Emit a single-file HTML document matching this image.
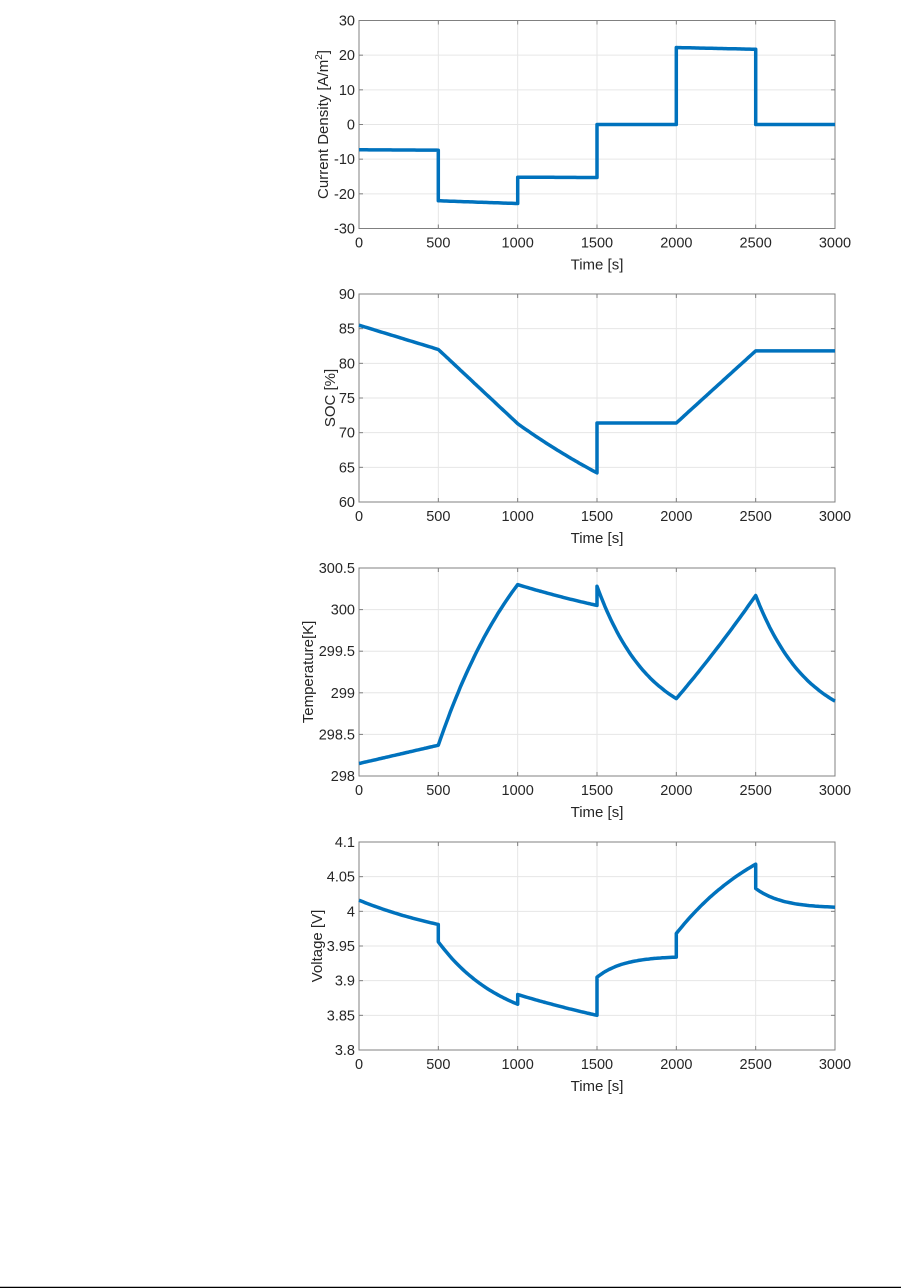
<!DOCTYPE html>
<html><head><meta charset="utf-8"><style>
html,body{margin:0;padding:0;background:#fff;width:901px;height:1288px;overflow:hidden}
svg{display:block}
text{font-family:"Liberation Sans",sans-serif;fill:#262626}
</style></head><body>
<svg id="s" width="901" height="1288" xmlns="http://www.w3.org/2000/svg">
<line x1="0" y1="1287.5" x2="901" y2="1287.5" stroke="#000" stroke-width="1.5"/>
</svg>
<script>
var S=document.getElementById('s');var NS='http://www.w3.org/2000/svg';
function el(t,a,txt){var e=document.createElementNS(NS,t);for(var k in a)e.setAttribute(k,a[k]);if(txt!==undefined)e.textContent=txt;S.appendChild(e);return e;}
var X0=359,X1=835,H=208;
function seg(t0,t1,v0,v1,k){var p=[];for(var i=0;i<=40;i++){var u=i/40,f=k?(1-Math.exp(-k*u))/(1-Math.exp(-k)):u;p.push([t0+(t1-t0)*u,v0+(v1-v0)*f]);}return p;}
function plot(top,ymin,ymax,ticks,labels,ylabel,lx,segs,sup){
  var yb=top+H;
  function Y(v){return yb-(v-ymin)/(ymax-ymin)*H;}
  function Xp(t){return X0+t/3000*(X1-X0);}
  for(var t=500;t<3000;t+=500)el('line',{x1:Xp(t),y1:top,x2:Xp(t),y2:yb,stroke:'#e6e6e6','stroke-width':1});
  ticks.forEach(function(v){var y=Y(v);if(y>top+0.5&&y<yb-0.5)el('line',{x1:X0,y1:y,x2:X1,y2:y,stroke:'#e6e6e6','stroke-width':1});});
  for(var t=0;t<=3000;t+=500){var x=Xp(t);el('line',{x1:x,y1:yb,x2:x,y2:yb-4,stroke:'#808080'});el('line',{x1:x,y1:top,x2:x,y2:top+4,stroke:'#808080'});el('text',{x:x,y:yb+19,'text-anchor':'middle','font-size':14.5},''+t);}
  ticks.forEach(function(v,i){var y=Y(v);el('line',{x1:X0,y1:y,x2:X0+4,y2:y,stroke:'#808080'});el('line',{x1:X1,y1:y,x2:X1-4,y2:y,stroke:'#808080'});el('text',{x:X0-4,y:y+5,'text-anchor':'end','font-size':14.5},labels[i]);});
  el('rect',{x:X0,y:top,width:X1-X0,height:H,fill:'none',stroke:'#808080','stroke-width':1});
  el('text',{x:(X0+X1)/2,y:yb+41,'text-anchor':'middle','font-size':15},'Time [s]');
  var tt=el('text',{x:0,y:0,'text-anchor':'middle','font-size':15,transform:'translate('+lx+','+(top+H/2)+') rotate(-90)'},ylabel);
  if(sup){var ts=document.createElementNS(NS,'tspan');ts.setAttribute('font-size','10');ts.setAttribute('dy','-6');ts.textContent='2';tt.appendChild(ts);var t2=document.createElementNS(NS,'tspan');t2.setAttribute('dy','6');t2.textContent=']';tt.appendChild(t2);}
  var d='';segs.forEach(function(s){seg.apply(null,s).forEach(function(p,i){d+=(d?'L':'M')+Xp(p[0]).toFixed(1)+','+Y(p[1]).toFixed(1);});});
  el('path',{d:d,fill:'none',stroke:'#0072bd','stroke-width':3.5,'stroke-linejoin':'round'});
}
plot(20.5,-30,30,[30,20,10,0,-10,-20,-30],['30','20','10','0','-10','-20','-30'],'Current Density [A/m',328,
 [[0,500,-7.3,-7.4,0],[500,1000,-22,-22.8,0],[1000,1500,-15.2,-15.3,0],[1500,2000,0,0,0],[2000,2500,22.2,21.7,0],[2500,3000,0,0,0]],true);
plot(294,60,90,[90,85,80,75,70,65,60],['90','85','80','75','70','65','60'],'SOC [%]',335,
 [[0,500,85.5,82,0],[500,1000,82,71.3,0],[1000,1500,71.3,64.2,0.3],[1500,2000,71.4,71.4,0],[2000,2500,71.4,81.8,0],[2500,3000,81.8,81.8,0]]);
plot(568,298,300.5,[300.5,300,299.5,299,298.5,298],['300.5','300','299.5','299','298.5','298'],'Temperature[K]',313,
 [[0,500,298.15,298.37,0],[500,1000,298.37,300.3,0.8],[1000,1500,300.3,300.05,0.3],[1500,2000,300.28,298.93,1.5],[2000,2500,298.93,300.17,-0.2],[2500,3000,300.17,298.9,1.5]]);
plot(842,3.8,4.1,[4.1,4.05,4,3.95,3.9,3.85,3.8],['4.1','4.05','4','3.95','3.9','3.85','3.8'],'Voltage [V]',322,
 [[0,500,4.016,3.981,0.6],[500,1000,3.956,3.866,1.2],[1000,1500,3.88,3.85,0.3],[1500,2000,3.905,3.934,3],[2000,2500,3.968,4.068,0.8],[2500,3000,4.033,4.006,3]]);
</script>
</body></html>
